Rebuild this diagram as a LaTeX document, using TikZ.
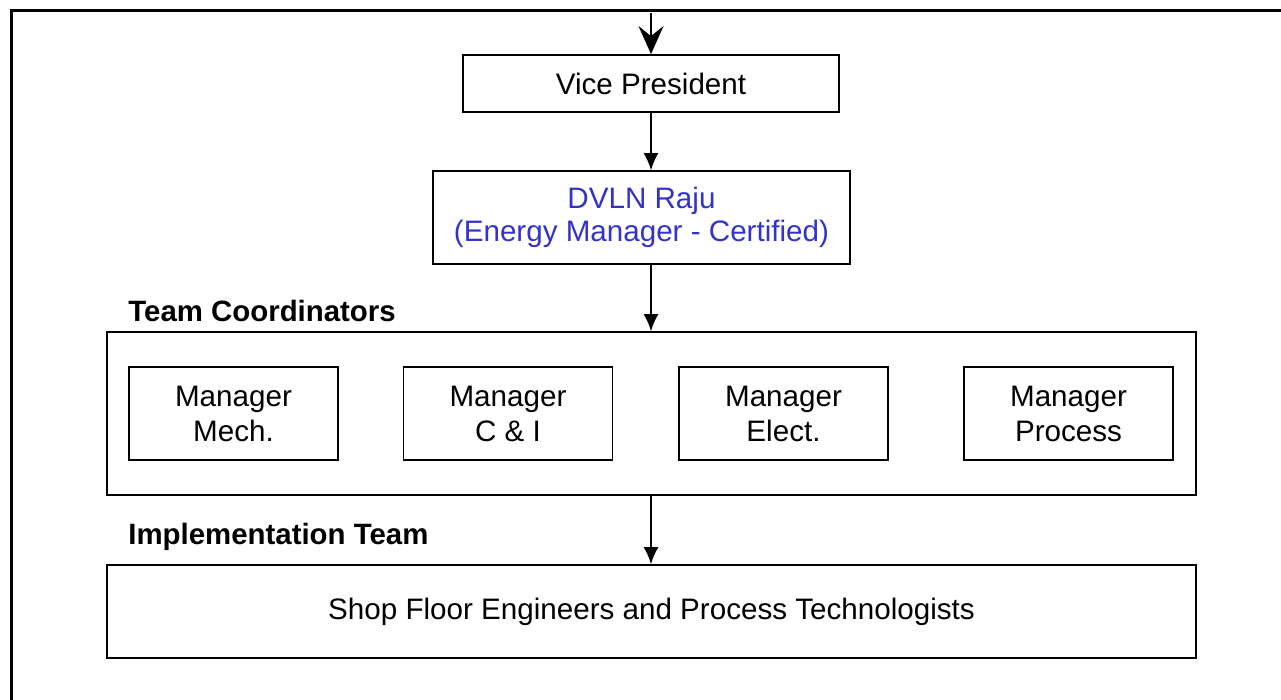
\documentclass[tikz,border=0pt]{standalone}
\usepackage{fontspec}
\setmainfont{Liberation Sans}
\usepackage{tikz}
\usetikzlibrary{arrows.meta,positioning}
\usepackage{xcolor}
\definecolor{emblue}{RGB}{51,51,204}
\tikzstyle{arrow} = [line width=0.75pt,-{Latex[length=8.5pt,width=7.5pt]},color=black]
\tikzstyle{toparrow} = [line width=1.2pt,-{Stealth[length=14pt,width=12.5pt,inset=5pt]},color=black]

\begin{document}
\begin{tikzpicture}[x=0.5pt, y=-0.5pt,
    box/.style={rectangle, draw=black, line width=0.9pt, fill=white, align=center, inner sep=0pt, font=\fontsize{14.8pt}{16.5pt}\selectfont},
    manager/.style={box, minimum width=104.5pt, minimum height=46.5pt, font=\fontsize{14.8pt}{17.5pt}\selectfont},
    grouplabel/.style={anchor=base west, inner sep=0pt, font=\fontsize{14.7pt}{16pt}\selectfont\bfseries}]

\useasboundingbox (0,0) rectangle (1281,700);

% Outer frame
\draw[line width=1.5pt] (11,705) -- (11,11) -- (1290,11);

% Top chain
\coordinate (entry) at (651,13);
\node[box, minimum width=188pt, minimum height=28.5pt] (vp) at (651,83.5) {Vice President};
\node[box, text=emblue, minimum width=208.5pt, minimum height=46.5pt] (em) at (641.5,217.5) {DVLN Raju\\(Energy Manager - Certified)};

% Team coordinators
\node[grouplabel] (coordlabel) at (128,322) {Team Coordinators};
\node[box, minimum width=544.5pt, minimum height=81.5pt] (coord) at (651.5,413.5) {};
\node[manager] (mech) at (233.5,413.5) {Manager\\Mech.};
\node[manager] (ci) at (508,413.5) {Manager\\C \& I};
\node[manager] (elect) at (783.5,413.5) {Manager\\Elect.};
\node[manager] (process) at (1068.5,413.5) {Manager\\Process};

% Implementation team
\node[grouplabel] (implabel) at (128,545) {Implementation Team};
\node[box, minimum width=544.5pt, minimum height=46.5pt] (shop) at (651.5,611.5) {Shop Floor Engineers and Process Technologists};

% Connections
\draw[toparrow] (entry) -- (vp.north);
\draw[arrow] (vp.south) -- (em.north -| vp.south);
\draw[arrow] (em.south -| vp.south) -- (coord.north -| vp.south);
\draw[arrow] (coord.south -| vp.south) -- (shop.north -| vp.south);

\end{tikzpicture}
\end{document}
